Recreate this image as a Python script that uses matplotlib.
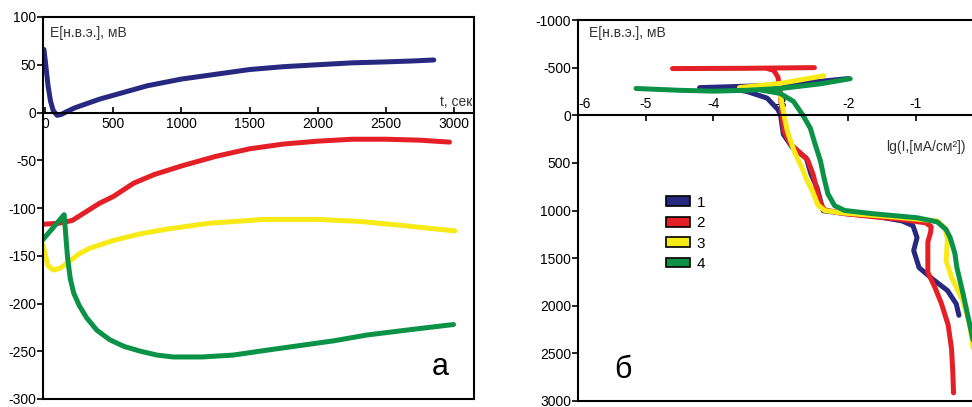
import matplotlib.pyplot as plt
from matplotlib.patches import Patch

plt.rcParams['font.family'] = ['Liberation Sans', 'DejaVu Sans']
plt.rcParams['axes.unicode_minus'] = False

BLUE = '#27287f'
RED = '#e41f26'
YELLOW = '#f7ea17'
GREEN = '#0b9247'

# panel a: E vs t
t_blue = [-8, 5, 22, 40, 60, 88, 120, 160, 220, 300, 400, 500, 750, 1000, 1250, 1500, 1750, 2000, 2250, 2500, 2700, 2850]
e_blue = [66, 50, 28, 12, 2, -3, -2, 1, 5, 9, 14, 18, 28, 35, 40, 45, 48, 50, 52, 53, 54, 55]

t_red = [-15, 100, 200, 300, 400, 500, 650, 800, 1000, 1250, 1500, 1750, 2000, 2250, 2500, 2750, 2965]
e_red = [-117, -116, -113, -104, -95, -88, -74, -65, -56, -46, -38, -33, -30, -28, -28, -29, -31]

t_yellow = [-15, 20, 60, 110, 160, 250, 330, 500, 700, 900, 1200, 1600, 2000, 2300, 2600, 2800, 3005]
e_yellow = [-139, -160, -165, -163, -158, -148, -142, -134, -127, -122, -116, -112, -112, -114, -118, -121, -124]

t_green = [-15, 140, 150, 165, 185, 210, 250, 305, 380, 475, 580, 700, 820, 940, 1150, 1380, 1620, 1870, 2120, 2360, 2700, 2995]
e_green = [-133, -107, -125, -152, -174, -189, -202, -215, -228, -238, -245, -250, -254, -256, -256, -254, -249, -244, -239, -233, -227, -222]

# panel b: E vs lg(I)
lg_red_top = [-4.6, -3.5, -2.5]
pe_red_top = [-490, -493, -500]
lg_red = [-3.2, -3.1, -3.04, -3.02, -3.0, -2.98, -2.95, -2.86, -2.7, -2.6, -2.52, -2.47, -2.42, -2.36, -2.1, -1.63, -1.2,
          -0.85, -0.77, -0.78, -0.82, -0.82, -0.82, -0.72, -0.62, -0.52, -0.47, -0.45, -0.44]
pe_red = [-492, -470, -400, -320, -200, 0, 170, 300, 400, 470, 620, 760, 900, 990, 1030, 1065, 1095,
          1130, 1170, 1230, 1330, 1500, 1650, 1800, 1975, 2200, 2450, 2700, 2915]

lg_blue_top = [-4.2, -3.5, -3.0, -2.5, -2.0]
pe_blue_top = [-290, -305, -320, -350, -385]
lg_blue = [-3.85, -3.5, -3.2, -3.04, -3.0, -2.96, -2.82, -2.62, -2.55, -2.46, -2.37, -2.0, -1.63, -1.2, -1.04,
           -0.98, -1.03, -0.95, -0.75, -0.53, -0.4, -0.36]
pe_blue = [-290, -250, -180, -60, 0, 200, 345, 450, 620, 763, 1003, 1035, 1055, 1110, 1160,
           1285, 1420, 1600, 1720, 1840, 1980, 2100]

lg_yellow_top = [-3.61, -3.0, -2.36]
pe_yellow_top = [-290, -335, -415]
lg_yellow = [-3.2, -3.05, -3.0, -2.96, -2.9, -2.8, -2.68, -2.6, -2.53, -2.45, -2.35, -2.12, -1.38, -0.68, -0.57,
             -0.53, -0.55, -0.47, -0.3, -0.2, -0.14, -0.1, -0.08]
pe_yellow = [-300, -250, -200, -40, 167, 376, 560, 700, 794, 940, 1000, 1024, 1065, 1110, 1181,
             1300, 1525, 1700, 1950, 2200, 2500, 2800, 3000]

lg_green_top = [-5.14, -4.5, -4.0, -3.5, -3.0, -2.41, -1.97]
pe_green_top = [-281, -262, -253, -262, -281, -330, -384]
lg_green = [-3.3, -3.01, -2.81, -2.67, -2.56, -2.49, -2.41, -2.36, -2.3, -2.2, -2.05, -1.63, -0.98, -0.68, -0.55,
            -0.49, -0.42, -0.39, -0.3, -0.16, -0.05]
pe_green = [-265, -230, -146, 0, 136, 303, 480, 650, 825, 950, 1000, 1034, 1076, 1120, 1200,
            1285, 1450, 1600, 1870, 2330, 2700]

legend_labels = ['1', '2', '3', '4']

fig = plt.figure(figsize=(9.72, 4.07), dpi=100)
lw = 3.6

# ---- panel a ----
ax1 = fig.add_axes([43 / 972, 8 / 407, 431 / 972, 382 / 407])
ax1.plot(t_blue, e_blue, color=BLUE, lw=lw, solid_capstyle='round')
ax1.plot(t_red, e_red, color=RED, lw=lw, solid_capstyle='round')
ax1.plot(t_yellow, e_yellow, color=YELLOW, lw=lw, solid_capstyle='round')
ax1.plot(t_green, e_green, color=GREEN, lw=lw, solid_capstyle='round')
ax1.set_xlim(-15, 3145)
ax1.set_ylim(-300, 100)
ax1.set_xticks(range(0, 3001, 500))
ax1.set_yticks(range(-300, 101, 50))
ax1.spines['bottom'].set_position(('data', 0))
ax1.axhline(-300, color='black', lw=1.5, clip_on=False)
for s in ax1.spines.values():
    s.set_linewidth(1.5)
ax1.tick_params(axis='x', direction='in', length=4, width=1.2, labelsize=10, pad=3)
ax1.tick_params(axis='y', direction='out', length=4, width=1.2, labelsize=10, pad=1)
ax1.text(0.016, 0.958, 'E[н.в.э.], мВ', transform=ax1.transAxes, fontsize=10, color='#333333', va='center')
ax1.text(3130, 4, 't, сек', ha='right', va='bottom', fontsize=10, color='#333333')
ax1.text(0.921, 0.084, 'а', transform=ax1.transAxes, fontsize=22, ha='center', va='center')

# ---- panel b ----
ax2 = fig.add_axes([578 / 972, 6 / 407, 412 / 972, 381 / 407])
ax2.plot(lg_blue_top, pe_blue_top, color=BLUE, lw=lw, solid_capstyle='round')
ax2.plot(lg_blue, pe_blue, color=BLUE, lw=lw, solid_capstyle='round')
ax2.plot(lg_red_top, pe_red_top, color=RED, lw=lw, solid_capstyle='round')
ax2.plot(lg_red, pe_red, color=RED, lw=lw, solid_capstyle='round')
ax2.plot(lg_yellow_top, pe_yellow_top, color=YELLOW, lw=lw, solid_capstyle='round')
ax2.plot(lg_yellow, pe_yellow, color=YELLOW, lw=lw, solid_capstyle='round')
ax2.plot(lg_green_top, pe_green_top, color=GREEN, lw=lw, solid_capstyle='round')
ax2.plot(lg_green, pe_green, color=GREEN, lw=lw, solid_capstyle='round')
ax2.set_xlim(-6, 0.1)
ax2.set_ylim(3000, -1000)
ax2.set_yticks(range(-1000, 3001, 500))
ax2.set_xticks([-6, -5, -4, -3, -2, -1, 0])
ax2.xaxis.tick_top()
ax2.spines['top'].set_position(('data', 0))
ax2.spines['right'].set_visible(False)
ax2.axhline(-1000, color='black', lw=1.5, clip_on=False)
for s in ax2.spines.values():
    s.set_linewidth(1.5)
ax2.tick_params(axis='x', direction='in', length=4, width=1.2, labelsize=10, pad=3)
ax2.tick_params(axis='y', direction='out', length=4, width=1.2, labelsize=10, pad=1)
ax2.get_xticklabels()[0].set_ha('left')
ax2.text(0.027, 0.966, 'E[н.в.э.], мВ', transform=ax2.transAxes, fontsize=10, color='#333333', va='center')
ax2.text(-1.44, 334, 'lg(I,[мА/см²])', fontsize=10, color='#333333', va='center')
ax2.text(0.109, 0.081, 'б', transform=ax2.transAxes, fontsize=22, ha='center', va='center')

handles = [Patch(facecolor=c, edgecolor='black', lw=1.2) for c in (BLUE, RED, YELLOW, GREEN)]
ax2.legend(handles, legend_labels, loc='upper left', bbox_to_anchor=(0.18, 0.575), frameon=False,
           fontsize=11, handlelength=1.6, handleheight=0.6, labelspacing=0.42, handletextpad=0.4)

fig.savefig('out.png', dpi=100)
